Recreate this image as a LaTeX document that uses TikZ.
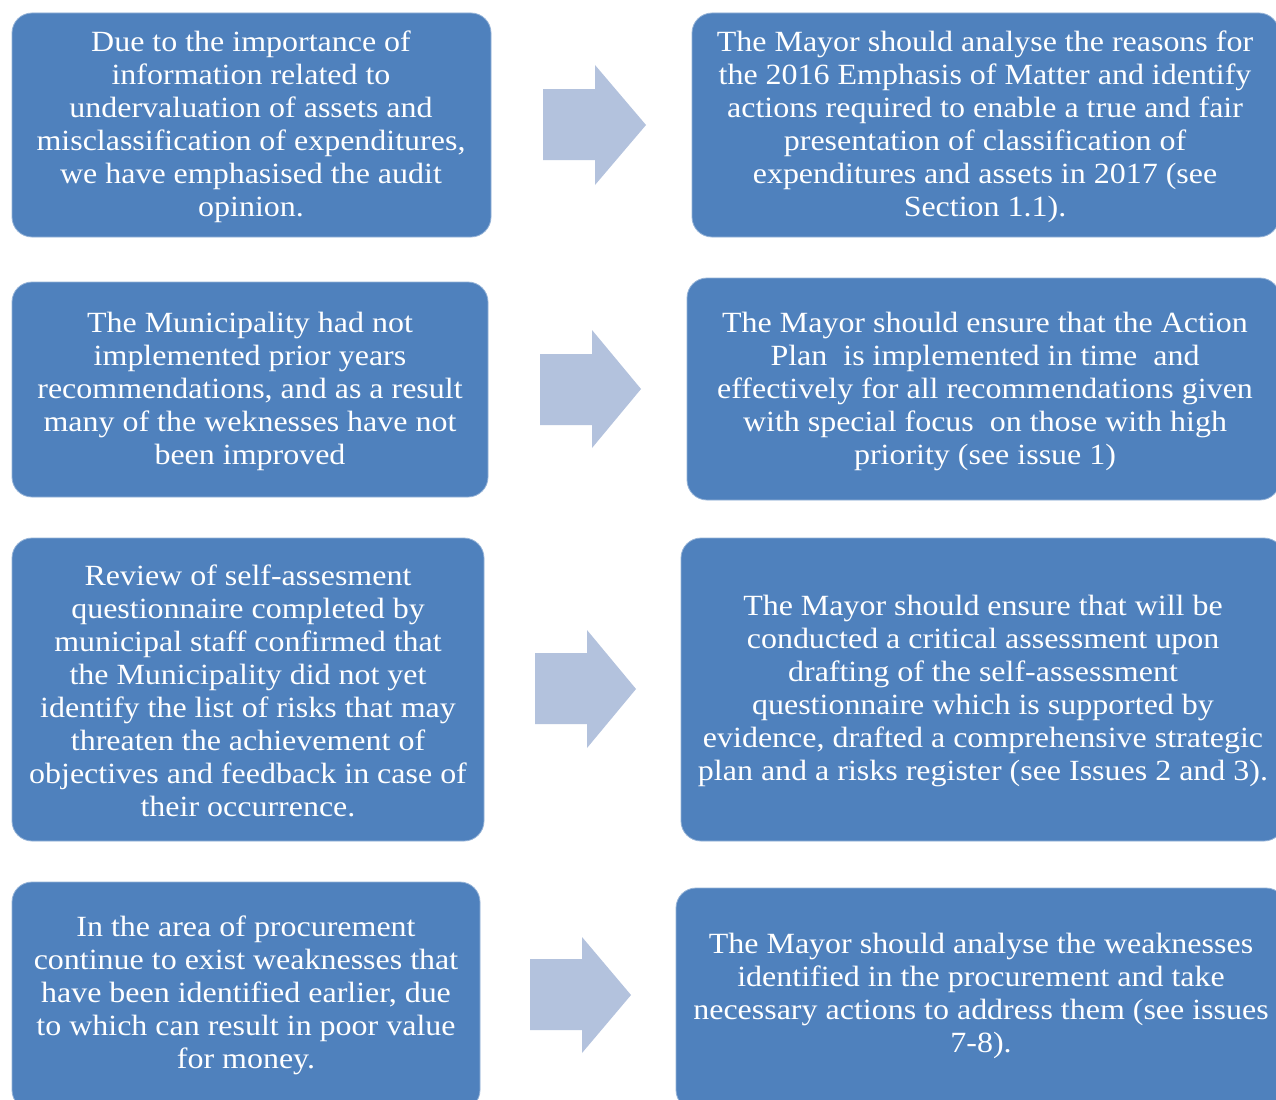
\documentclass[tikz,border=0pt]{standalone}
\usepackage{fontspec}
\setmainfont[FakeStretch=1.09]{Liberation Serif}
\definecolor{boxblue}{HTML}{4F81BD}
\definecolor{arrowblue}{HTML}{B3C2DD}
\begin{document}
\begin{tikzpicture}[x=0.75pt,y=-0.75pt,
  box/.style={rounded corners=15pt, fill=boxblue, draw=boxblue!60!white, line width=0.6pt},
  txt/.style={text=white, align=center, font=\fontsize{22}{24.75}\selectfont, inner sep=0pt},
  blockarrow/.style={fill=arrowblue, draw=none}]
\clip (0,0) rectangle (1276,1099);
\useasboundingbox (0,0) rectangle (1276,1099);
\fill[white] (0,0) rectangle (1276,1099);

% row 1
\draw[box] (12,13) rectangle (491,237);
\node[txt] (l1) at (251,127) {Due to the importance of\\information related to\\undervaluation of assets and\\misclassification of expenditures,\\we have emphasised the audit\\opinion.};
\draw[box] (692,13) rectangle (1279,237);
\node[txt] (r1) at (985,127) {The Mayor should analyse the reasons for\\the 2016 Emphasis of Matter and identify\\actions required to enable a true and fair\\presentation of classification of\\expenditures and assets in 2017 (see\\Section 1.1).};
\fill[blockarrow] (543,89) -- (595,89) -- (595,65) -- (646,125) -- (595,185) -- (595,160) -- (543,160) -- cycle;

% row 2
\draw[box] (12,282) rectangle (488,497);
\node[txt] (l2) at (250,391) {The Municipality had not\\implemented prior years\\recommendations, and as a result\\many of the weknesses have not\\been improved};
\draw[box] (687,278) rectangle (1280,500);
\node[txt] (r2) at (985,391) {The Mayor should ensure that the Action\\Plan\ \ is implemented in time\ \ and\\effectively for all recommendations given\\with special focus\ \ on those with high\\priority (see issue 1)};
\fill[blockarrow] (540,354) -- (592,354) -- (592,330) -- (641,389) -- (592,448) -- (592,425) -- (540,425) -- cycle;

% row 3
\draw[box] (12,538) rectangle (484,841);
\node[txt] (l3) at (248,691) {Review of self-assesment\\questionnaire completed by\\municipal staff confirmed that\\the Municipality did not yet\\identify the list of risks that may\\threaten the achievement of\\objectives and feedback in case of\\their occurrence.};
\draw[box] (681,538) rectangle (1284,841);
\node[txt] (r3) at (983,691) {The Mayor should ensure that will be\\conducted a critical assessment upon\\drafting of the self-assessment\\questionnaire which is supported by\\evidence, drafted a comprehensive strategic\\plan and a risks register (see Issues 2 and 3).};
\fill[blockarrow] (535,653) -- (587,653) -- (587,630) -- (636,689) -- (587,748) -- (587,724) -- (535,724) -- cycle;

% row 4
\draw[box] (12,882) rectangle (480,1110);
\node[txt] (l4) at (246,995) {In the area of procurement\\continue to exist weaknesses that\\have been identified earlier, due\\to which can result in poor value\\for money.};
\draw[box] (676,888) rectangle (1286,1110);
\node[txt] (r4) at (981,996) {The Mayor should analyse the weaknesses\\identified in the procurement and take\\necessary actions to address them (see issues\\7-8).};
\fill[blockarrow] (530,959) -- (582,959) -- (582,937) -- (631,995) -- (582,1053) -- (582,1030) -- (530,1030) -- cycle;
\end{tikzpicture}
\end{document}
